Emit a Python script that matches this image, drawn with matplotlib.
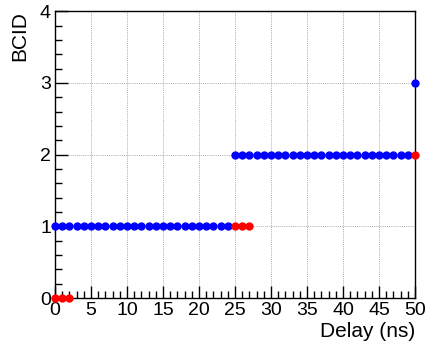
import matplotlib
matplotlib.use("Agg")
import matplotlib.pyplot as plt
import numpy as np
from matplotlib.ticker import MultipleLocator

plt.rcParams['font.family'] = ['Liberation Sans', 'DejaVu Sans']

# blue: measured BCID vs delay
blue_x = list(range(0, 25)) + list(range(25, 50)) + [50]
blue_y = [1] * 25 + [2] * 25 + [3]
# red: points at the transitions
red_x = [0, 1, 2, 25, 26, 27, 50]
red_y = [0, 0, 0, 1, 1, 1, 2]

fig = plt.figure(figsize=(4.27, 3.49), dpi=100)
ax = fig.add_axes([0.129, 0.146, 0.843, 0.822])

ax.plot(blue_x, blue_y, 'o', color='blue', ms=6, mec='none', clip_on=False, zorder=3)
ax.plot(red_x, red_y, 'o', color='red', ms=6, mec='none', clip_on=False, zorder=4)

ax.set_xlim(0, 50)
ax.set_ylim(0, 4)
ax.xaxis.set_major_locator(MultipleLocator(5))
ax.xaxis.set_minor_locator(MultipleLocator(1))
ax.yaxis.set_major_locator(MultipleLocator(1))
ax.yaxis.set_minor_locator(MultipleLocator(0.2))
ax.tick_params(which='both', direction='in', top=False, right=False, labelsize=14, width=1)
ax.tick_params(which='major', length=9)
ax.tick_params(which='minor', length=5)
ax.tick_params(axis='x', which='major', pad=3)
ax.tick_params(axis='y', which='major', pad=3)
ax.grid(True, which='major', color='#aaaaaa', linestyle=(0, (1, 1.2)), linewidth=0.7)
for s in ax.spines.values():
    s.set_linewidth(1)

# nudge the corner zeros apart
ax.get_yticklabels()[0].set_verticalalignment('bottom')

ax.set_xlabel('Delay (ns)', fontsize=15, loc='right', labelpad=2)
ax.set_ylabel('BCID', fontsize=15, loc='top', labelpad=8)

fig.savefig("out.png", dpi=100)
